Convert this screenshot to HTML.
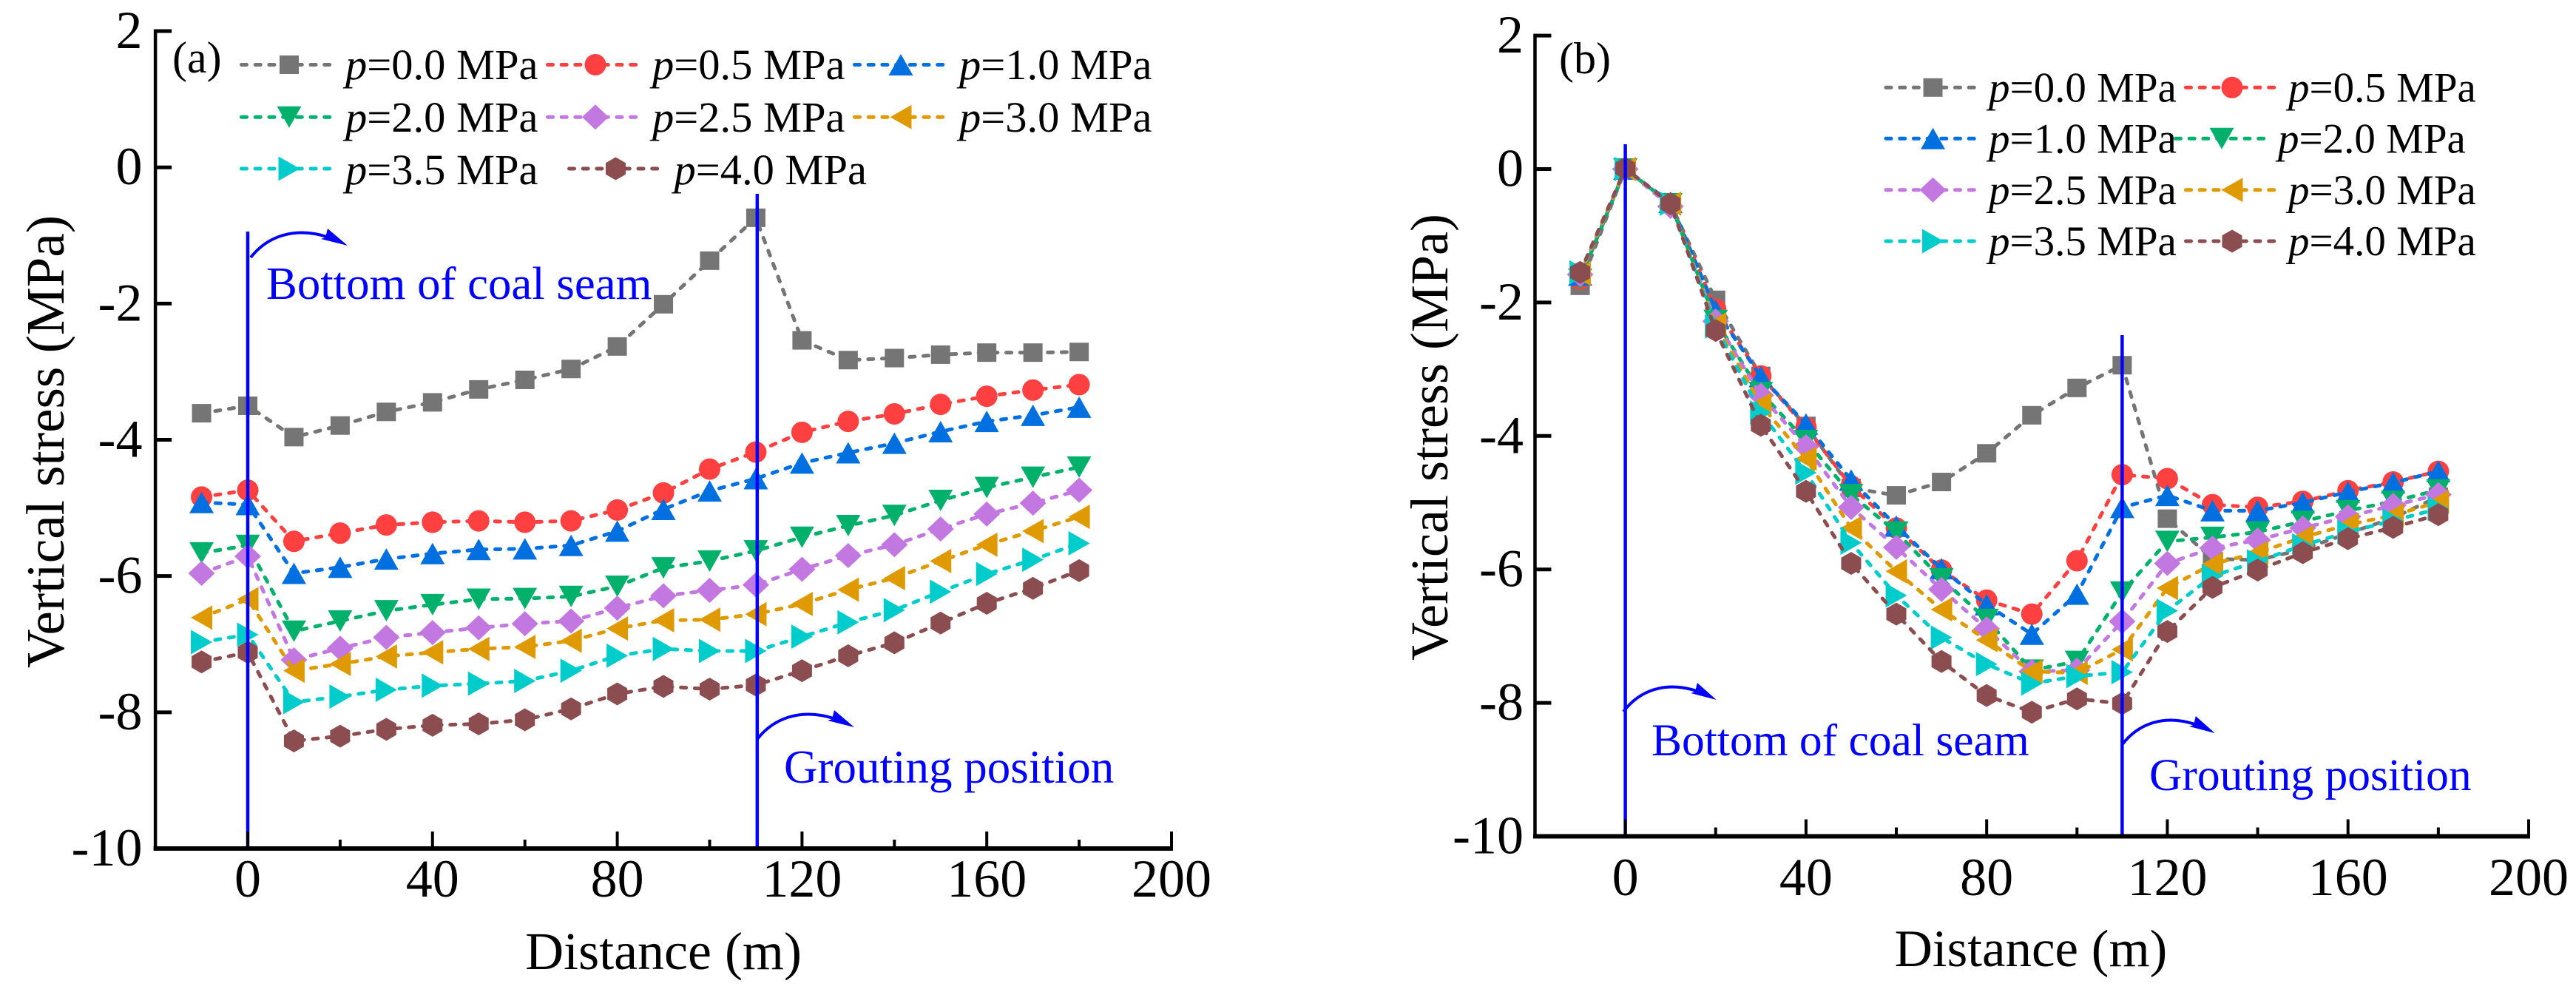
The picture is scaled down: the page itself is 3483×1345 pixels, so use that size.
<!DOCTYPE html>
<html lang="en">
<head>
<meta charset="utf-8">
<title>Vertical stress vs distance</title>
<style>
html,body{margin:0;padding:0;background:#fff;}
#figure{display:block;width:3483px;height:1345px;font-family:"Liberation Serif",serif;}
</style>
</head>
<body>
<svg id="figure" xmlns="http://www.w3.org/2000/svg" width="3483" height="1345" viewBox="0 0 3483 1345">
  <rect x="0" y="0" width="3483" height="1345" fill="#ffffff"/>
  <g id="panelA"></g>
  <g id="panelB"></g>
</svg>
<script>
const distances = [-10,0,10,20,30,40,50,60,70,80,90,100,110,120,130,140,150,160,170,180];
const xTickLabels = [0,40,80,120,160,200];
const xMinorTicks = [20,60,100,140,180];
const yTickValues = [2,0,-2,-4,-6,-8,-10];
const seriesLabels = ["0.0","0.5","1.0","2.0","2.5","3.0","3.5","4.0"];

const panelA_p00 = [-3.61,-3.50,-3.96,-3.79,-3.59,-3.45,-3.26,-3.12,-2.96,-2.63,-2.01,-1.37,-0.74,-2.54,-2.83,-2.80,-2.75,-2.72,-2.72,-2.71];
const panelA_p05 = [-4.84,-4.74,-5.49,-5.37,-5.25,-5.21,-5.19,-5.21,-5.19,-5.03,-4.78,-4.43,-4.18,-3.89,-3.73,-3.62,-3.48,-3.36,-3.27,-3.19];
const panelA_p10 = [-4.92,-4.95,-5.96,-5.87,-5.75,-5.67,-5.61,-5.60,-5.55,-5.34,-5.02,-4.75,-4.57,-4.34,-4.19,-4.05,-3.88,-3.73,-3.64,-3.52];
const panelA_p20 = [-5.66,-5.55,-6.81,-6.66,-6.51,-6.42,-6.34,-6.33,-6.30,-6.15,-5.88,-5.78,-5.63,-5.43,-5.26,-5.11,-4.89,-4.70,-4.55,-4.40];
const panelA_p25 = [-5.96,-5.71,-7.23,-7.06,-6.90,-6.83,-6.76,-6.70,-6.66,-6.47,-6.29,-6.21,-6.13,-5.90,-5.70,-5.54,-5.31,-5.09,-4.93,-4.74];
const panelA_p30 = [-6.61,-6.34,-7.39,-7.29,-7.18,-7.12,-7.07,-7.04,-6.95,-6.77,-6.65,-6.64,-6.56,-6.41,-6.20,-6.03,-5.78,-5.54,-5.34,-5.13];
const panelA_p35 = [-6.97,-6.86,-7.85,-7.77,-7.67,-7.61,-7.58,-7.54,-7.39,-7.17,-7.07,-7.10,-7.10,-6.89,-6.68,-6.50,-6.23,-5.97,-5.76,-5.52];
const panelA_p40 = [-7.26,-7.12,-8.42,-8.35,-8.25,-8.19,-8.17,-8.11,-7.95,-7.73,-7.62,-7.66,-7.60,-7.39,-7.17,-6.98,-6.69,-6.40,-6.18,-5.92];

const panelB_p00 = [-1.75,0.00,-0.52,-1.96,-3.10,-3.85,-4.78,-4.89,-4.69,-4.26,-3.69,-3.28,-2.94,-5.24,-5.84,-5.86,-5.70,-5.46,-5.23,-4.91];
const panelB_p05 = [-1.65,0.00,-0.52,-2.10,-3.10,-3.87,-4.75,-5.38,-6.01,-6.46,-6.67,-5.87,-4.58,-4.64,-5.03,-5.07,-4.98,-4.82,-4.69,-4.53];
const panelB_p10 = [-1.59,0.00,-0.50,-2.12,-3.11,-3.82,-4.66,-5.35,-5.99,-6.53,-6.97,-6.37,-5.07,-4.89,-5.12,-5.12,-5.00,-4.84,-4.70,-4.53];
const panelB_p20 = [-1.65,0.00,-0.52,-2.27,-3.35,-4.07,-4.88,-5.44,-6.14,-6.75,-7.51,-7.38,-6.34,-5.58,-5.52,-5.44,-5.28,-5.12,-4.98,-4.81];
const panelB_p25 = [-1.58,0.00,-0.56,-2.28,-3.39,-4.16,-5.07,-5.67,-6.30,-6.89,-7.53,-7.51,-6.78,-5.91,-5.68,-5.56,-5.38,-5.21,-5.04,-4.88];
const panelB_p30 = [-1.57,0.00,-0.52,-2.33,-3.53,-4.34,-5.38,-6.03,-6.60,-7.06,-7.53,-7.55,-7.20,-6.28,-5.92,-5.75,-5.52,-5.33,-5.19,-4.99];
const panelB_p35 = [-1.55,0.00,-0.52,-2.36,-3.65,-4.55,-5.60,-6.39,-7.02,-7.42,-7.71,-7.60,-7.54,-6.62,-6.10,-5.88,-5.64,-5.44,-5.27,-5.09];
const panelB_p40 = [-1.55,0.01,-0.52,-2.42,-3.84,-4.83,-5.91,-6.67,-7.38,-7.89,-8.14,-7.94,-8.01,-6.93,-6.27,-6.01,-5.75,-5.54,-5.37,-5.18];

const panelASeries = [panelA_p00,panelA_p05,panelA_p10,panelA_p20,panelA_p25,panelA_p30,panelA_p35,panelA_p40];
const panelBSeries = [panelB_p00,panelB_p05,panelB_p10,panelB_p20,panelB_p25,panelB_p30,panelB_p35,panelB_p40];

const seriesColors = ["#757575","#ff4040","#0070e0","#00b06b","#c278e0","#de9a00","#00cccc","#8b4d4f"];
const seriesShapes = ["square","circle","up","down","diamond","left","right","hexagon"];

const SVGNS = "http://www.w3.org/2000/svg";

function make(parent, tag, attrs, text) {
  const el = document.createElementNS(SVGNS, tag);
  for (const k in attrs) el.setAttribute(k, attrs[k]);
  if (text !== undefined) el.textContent = text;
  parent.appendChild(el);
  return el;
}

function markerPoints(shape, cx, cy) {
  const pts = {
    up: [[0,-14.5],[16.5,14.5],[-16.5,14.5]],
    down: [[0,14.5],[16.5,-14.5],[-16.5,-14.5]],
    diamond: [[0,-17],[18,0],[0,17],[-18,0]],
    left: [[-14.5,0],[14.5,-16.5],[14.5,16.5]],
    right: [[14.5,0],[-14.5,-16.5],[-14.5,16.5]],
    hexagon: [[0,-15.5],[13.5,-7.7],[13.5,7.7],[0,15.5],[-13.5,7.7],[-13.5,-7.7]]
  };
  return pts[shape].map(p => (cx + p[0]) + "," + (cy + p[1])).join(" ");
}

function drawMarker(parent, shape, color, cx, cy) {
  if (shape === "square") {
    return make(parent, "rect", {x: cx - 13, y: cy - 12.5, width: 26, height: 25, fill: color});
  }
  if (shape === "circle") {
    return make(parent, "circle", {cx: cx, cy: cy, r: 14.5, fill: color});
  }
  return make(parent, "polygon", {points: markerPoints(shape, cx, cy), fill: color});
}

function drawLegendEntry(parent, index, x1, x2, markerX, textX, rowY, baseline, fontSize) {
  const entry = make(parent, "g", {});
  
  
  const line = make(entry, "line", {x1: x1 + 2.5, y1: rowY, x2: x2 - 2.5, y2: rowY, stroke: seriesColors[index], "stroke-width": 5, "stroke-linecap": "round", "stroke-dasharray": "7 11.7"});
  
  
  const symbol = drawMarker(entry, seriesShapes[index], seriesColors[index], markerX, rowY);
  
  
  const label = make(entry, "text", {x: textX, y: baseline, "font-size": fontSize, fill: "#000"});
  
  
  make(label, "tspan", {"font-style": "italic"}, "p");
  make(label, "tspan", {}, "=" + seriesLabels[index] + " MPa");
}

function drawArrow(parent, sx, sy, k) {
  const arrow = make(parent, "g", {});
  
  
  make(arrow, "path", {
    d: "M" + sx + " " + sy + " C" + (sx + 22*k) + " " + (sy - 28) + "," + (sx + 58*k) + " " + (sy - 42) + "," + (sx + 103*k) + " " + (sy - 28),
    fill: "none", stroke: "#0000ff", "stroke-width": 4
  });
  make(arrow, "polygon", {
    points: (sx + 131*k) + "," + (sy - 16) + " " + (sx + 104*k) + "," + (sy - 39) + " " + (sx + 101*k) + "," + (sy - 27) + " " + (sx + 95*k) + "," + (sy - 25),
    fill: "#0000ff"
  });
}

function drawPanel(root, cfg) {
  const xScale = v => cfg.x0 + (v - 0) * cfg.xk;
  const yScale = v => cfg.y0 - v * cfg.yk;
  const left = xScale(-20);
  const right = xScale(200);
  const bottom = yScale(-10);
  const top = yScale(2);

  // series
  cfg.series.forEach(function (values, s) {
    const group = make(root, "g", {});
    
    
    const pts = values.map((v, i) => xScale(distances[i]) + "," + yScale(v)).join(" ");
    const line = make(group, "polyline", {points: pts, fill: "none", stroke: seriesColors[s], "stroke-width": 5, "stroke-linecap": "round", "stroke-dasharray": "7 11.7"});
    
    
    values.forEach(function (v, i) {
      const mark = drawMarker(group, seriesShapes[s], seriesColors[s], xScale(distances[i]), yScale(v));
      
      
    });
  });

  // reference lines
  cfg.refLines.forEach(function (r) {
    const ref = make(root, "line", {x1: xScale(r.at), y1: r.from, x2: xScale(r.at), y2: bottom, stroke: "#0000ff", "stroke-width": 4.5});
    
    
  });

  // axes
  const yAxis = make(root, "line", {x1: left, y1: top - 2.5, x2: left, y2: bottom + 3, stroke: "#000", "stroke-width": 4.5});
  
  
  const xAxis = make(root, "line", {x1: left - 2.5, y1: bottom, x2: right + 2, y2: bottom, stroke: "#000", "stroke-width": 6});
  
  

  yTickValues.forEach(function (v) {
    const y = yScale(v);
    const tick = make(root, "line", {x1: left, y1: y, x2: left + 22, y2: y, stroke: "#000", "stroke-width": 5});
    
    
    const label = make(root, "text", {x: cfg.yLabelRight, y: y + 23, "text-anchor": "end", "font-size": 72, fill: "#000"}, String(v));
    
    
  });

  xTickLabels.forEach(function (v) {
    const x = xScale(v);
    const tick = make(root, "line", {x1: x, y1: bottom, x2: x, y2: bottom - 23, stroke: "#000", "stroke-width": 4});
    
    
    const label = make(root, "text", {x: x, y: cfg.xLabelBase, "text-anchor": "middle", "font-size": 72, fill: "#000"}, String(v));
    
    
  });

  xMinorTicks.forEach(function (v) {
    const x = xScale(v);
    const tick = make(root, "line", {x1: x, y1: bottom, x2: x, y2: bottom - 12, stroke: "#000", "stroke-width": 4});
    
    
  });

  const xTitle = make(root, "text", {x: cfg.xTitleX, y: cfg.xTitleY, "text-anchor": "middle", "font-size": cfg.xTitleSize, fill: "#000"}, "Distance (m)");
  
  

  const yTitle = make(root, "text", {transform: "translate(" + cfg.yTitleX + "," + cfg.yTitleY + ") rotate(-90)", "text-anchor": "middle", "font-size": cfg.yTitleSize, fill: "#000"}, "Vertical stress (MPa)");
  
  

  const tag = make(root, "text", {x: cfg.tagX, y: cfg.tagY, "font-size": 60, fill: "#000"}, cfg.tag);
  
  

  cfg.notes.forEach(function (n) {
    const note = make(root, "text", {x: n.x, y: n.y, "font-size": n.size, fill: "#0000ff"}, n.text);
    
    
    drawArrow(root, n.ax, n.ay, n.k);
  });
}

const panelARoot = document.getElementById("panelA");
const panelBRoot = document.getElementById("panelB");

drawPanel(panelARoot, {
  series: panelASeries, x0: 335, xk: 6.245, y0: 226.2, yk: 92.08,
  yLabelRight: 192.5, xLabelBase: 1212,
  xTitleX: 897, xTitleY: 1310, xTitleSize: 72,
  yTitleX: 86, yTitleY: 597, yTitleSize: 73,
  tag: "(a)", tagX: 233, tagY: 98,
  refLines: [{at: 0, from: 313}, {at: 110.3, from: 262}],
  notes: [
    {text: "Bottom of coal seam", x: 360, y: 404, size: 62.8, ax: 339, ay: 348, k: 1},
    {text: "Grouting position", x: 1060, y: 1058, size: 63, ax: 1024, ay: 999, k: 1}
  ]
});

drawPanel(panelBRoot, {
  series: panelBSeries, x0: 2197.6, xk: 6.107, y0: 228.5, yk: 90.2,
  yLabelRight: 2060, xLabelBase: 1210,
  xTitleX: 2746, xTitleY: 1306, xTitleSize: 71,
  yTitleX: 1957, yTitleY: 591, yTitleSize: 72,
  tag: "(b)", tagX: 2108, tagY: 99,
  refLines: [{at: 0, from: 195}, {at: 110, from: 453}],
  notes: [
    {text: "Bottom of coal seam", x: 2233, y: 1021, size: 61.5, ax: 2195, ay: 962, k: 0.96},
    {text: "Grouting position", x: 2906, y: 1068, size: 61.5, ax: 2869, ay: 1007, k: 0.96}
  ]
});

// legend, panel a
drawLegendEntry(panelARoot, 0, 324, 452, 391, 467, 87.5, 107, 58.5);
drawLegendEntry(panelARoot, 1, 738, 866, 805, 882, 87.5, 107, 58.5);
drawLegendEntry(panelARoot, 2, 1153, 1281, 1218, 1297, 87.5, 107, 58.5);
drawLegendEntry(panelARoot, 3, 324, 452, 391, 467, 158.3, 178, 58.5);
drawLegendEntry(panelARoot, 4, 738, 866, 805, 882, 158.3, 178, 58.5);
drawLegendEntry(panelARoot, 5, 1153, 1281, 1218, 1297, 158.3, 178, 58.5);
drawLegendEntry(panelARoot, 6, 324, 452, 391, 467, 228, 249, 58.5);
drawLegendEntry(panelARoot, 7, 767, 895, 832.5, 911.5, 228, 249, 58.5);

// legend, panel b
drawLegendEntry(panelBRoot, 0, 2547.5, 2674, 2613.5, 2689, 118.3, 137.3, 57);
drawLegendEntry(panelBRoot, 1, 2953, 3078, 3018, 3094, 118.3, 137.3, 57);
drawLegendEntry(panelBRoot, 2, 2547.5, 2674, 2613.5, 2689, 187.3, 206.7, 57);
drawLegendEntry(panelBRoot, 3, 2939, 3064, 3004, 3080, 187.3, 206.7, 57);
drawLegendEntry(panelBRoot, 4, 2547.5, 2674, 2613.5, 2689, 256.7, 276, 57);
drawLegendEntry(panelBRoot, 5, 2953, 3078, 3018, 3094, 256.7, 276, 57);
drawLegendEntry(panelBRoot, 6, 2547.5, 2674, 2613.5, 2689, 326, 345, 57);
drawLegendEntry(panelBRoot, 7, 2953, 3078, 3018, 3094, 326, 345, 57);
</script>
</body>
</html>
